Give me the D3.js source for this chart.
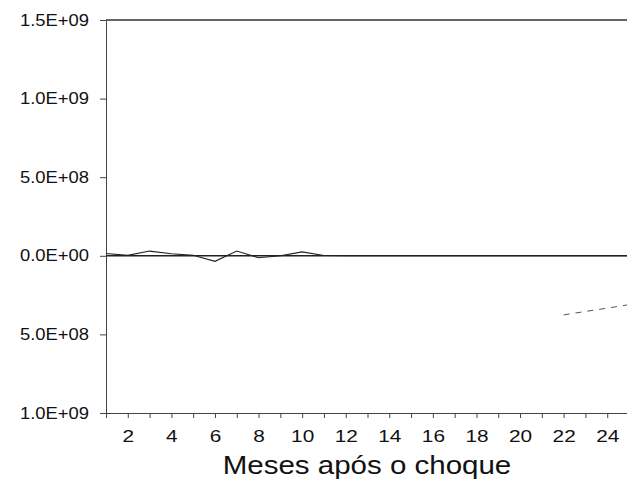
<!DOCTYPE html>
<head>
<meta charset="utf-8">
  <style>
    body { margin: 0; background: #fff; }
    text { font-family: "Liberation Sans", Arial, sans-serif; fill: #111; }
  </style>
  <script src="https://d3js.org/d3.v7.min.js"></script>
  <script>
  // impulse response (solid) and lower band (dashed, off-scale before month 22)
  var months = d3.range(1, 26);
  var response = [1.5e7, 0.3e7, 3.0e7, 1.3e7, 0.3e7, -3.5e7, 3.0e7, -1.2e7, 0, 2.5e7, 0.2e7, 0, 0,
                  0, 0, 0, 0, 0, 0, 0, 0, 0, 0, 0, 0];
  var lowerBand = [null, null, null, null, null, null, null, null, null, null, null, null, null,
                   null, null, null, null, null, null, null, null, -3.76e8, -3.54e8, -3.33e8, -3.11e8];
  var yTicks = [1.5e9, 1.0e9, 5.0e8, 0, -5.0e8, -1.0e9];
  var yLabels = ["1.5E+09", "1.0E+09", "5.0E+08", "0.0E+00", "5.0E+08", "1.0E+09"];

  window.addEventListener('load', function() {
    var width = 627, height = 480;
    var left = 106, right = 629, top = 20, bottom = 413;

    var svg = d3.select("body").append("svg").attr("width", width).attr("height", height);
    var x = d3.scaleLinear().domain([1, 25]).range([left, right]);
    var y = d3.scaleLinear().domain([-1e9, 1.5e9]).range([bottom, top]);

    svg.append("clipPath").attr("id", "plot")
      .append("rect").attr("x", left).attr("y", top).attr("width", width - left).attr("height", bottom - top);

    // top frame line
    svg.append("line")
      .attr("x1", left).attr("x2", width).attr("y1", y(1.5e9)).attr("y2", y(1.5e9))
      .attr("stroke", "#333").attr("stroke-width", 1.6);

    var yAxis = svg.append("g")
      .attr("transform", "translate(" + left + ",0)")
      .call(d3.axisLeft(y).tickValues(yTicks).tickFormat(function(d, i) { return yLabels[i]; })
        .tickSize(6).tickSizeOuter(0).tickPadding(10));
    yAxis.selectAll("text").attr("font-size", "16px").attr("transform", "scale(1.15,1)")
      .attr("x", -17 / 1.15);
    yAxis.selectAll("line, path").attr("stroke", "#444");

    var xAxis = svg.append("g")
      .attr("transform", "translate(0," + bottom + ")")
      .call(d3.axisBottom(x).tickValues(months)
        .tickFormat(function(d) { return d % 2 === 0 ? d : ""; })
        .tickSize(5).tickSizeOuter(0).tickPadding(13));
    xAxis.selectAll("text").attr("font-size", "16px").attr("transform", "scale(1.3,1)");
    xAxis.selectAll("line, path").attr("stroke", "#444");

    // zero line
    svg.append("line")
      .attr("x1", left).attr("x2", width).attr("y1", y(0)).attr("y2", y(0))
      .attr("stroke", "#222").attr("stroke-width", 1.6);

    var line = d3.line()
      .defined(function(d) { return d[1] !== null; })
      .x(function(d) { return x(d[0]); })
      .y(function(d) { return y(d[1]); });

    var plot = svg.append("g").attr("clip-path", "url(#plot)");
    plot.append("path")
      .attr("d", line(d3.zip(months, response)))
      .attr("fill", "none").attr("stroke", "#222").attr("stroke-width", 1.1);
    plot.append("path")
      .attr("d", line(d3.zip(months, lowerBand)))
      .attr("fill", "none").attr("stroke", "#555").attr("stroke-width", 1)
      .attr("stroke-dasharray", "6,6");

    svg.append("text")
      .attr("transform", "translate(" + 367 + ",474) scale(1.18,1)")
      .attr("text-anchor", "middle")
      .attr("font-size", "25px")
      .text("Meses após o choque");
  });
  </script>
</head>
<body>
</body>
</html>
